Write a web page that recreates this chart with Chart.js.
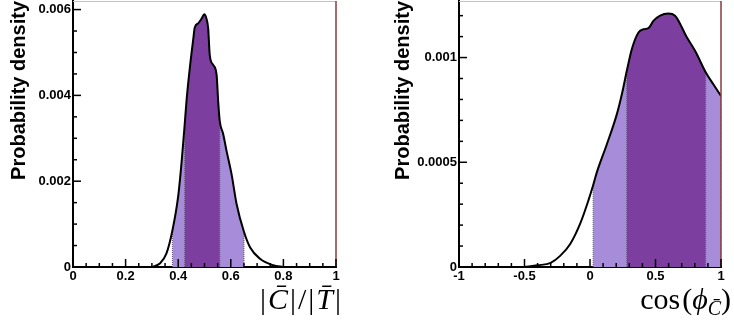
<!DOCTYPE html>
<html>
<head>
<meta charset="utf-8">
<script src="https://cdn.jsdelivr.net/npm/chart.js@4"></script>
<style>
    html, body { margin: 0; padding: 0; background: #fff; }
    #wrap { position: relative; width: 734px; height: 322px; }
    .panel { position: absolute; top: 0; width: 367px; height: 322px; }
</style>
</head>
<body>
<div id="wrap">
    <div class="panel" style="left:0"><canvas id="graph-ratio" width="367" height="322"></canvas></div>
    <div class="panel" style="left:367px"><canvas id="graph-cosphi" width="367" height="322"></canvas></div>
</div>
<script>
// ===============================
//  Posterior densities, |C|/|T| and cos(phi_C)
// ===============================

// venstre panel: |C|/|T|
const ratioX = [0.300, 0.330, 0.355, 0.378, 0.400, 0.413, 0.425, 0.432, 0.444, 0.457, 0.463, 0.476, 0.490, 0.499, 0.507, 0.514, 0.520, 0.533, 0.546, 0.552, 0.558, 0.571, 0.584, 0.603, 0.622, 0.650, 0.673, 0.711, 0.761, 0.800];
const ratioY = [0, 0.00008, 0.00031, 0.00085, 0.00165, 0.00245, 0.00335, 0.00390, 0.00463, 0.00530, 0.00558, 0.00568, 0.00580, 0.00589, 0.00580, 0.00556, 0.00494, 0.00471, 0.00448, 0.00386, 0.00340, 0.00310, 0.00270, 0.00216, 0.00147, 0.00082, 0.00046, 0.00019, 0.00004, 0];
const ratioBand68 = [0.425, 0.558];
const ratioBand95 = [0.378, 0.650];

// hoyre panel: cos(phi_C)
const cosX = [-0.500, -0.400, -0.300, -0.228, -0.151, -0.075, -0.012, 0.024, 0.052, 0.128, 0.205, 0.245, 0.281, 0.319, 0.370, 0.408, 0.446, 0.484, 0.535, 0.598, 0.649, 0.738, 0.804, 0.883, 0.944, 1.000];
const cosY = [0, 0.000008, 0.00002, 0.000053, 0.00011, 0.000207, 0.000318, 0.00039, 0.000452, 0.000585, 0.00073, 0.00083, 0.000937, 0.00104, 0.00112, 0.001135, 0.00114, 0.001175, 0.0012, 0.00121, 0.0012, 0.001098, 0.00103, 0.00093, 0.00087, 0.000817];
const cosBand68 = [0.281, 0.883];
const cosBand95 = [0.024, 1.000];

const yTitle = "Probability density";
const DARK = "#7d3f9f";
const LIGHT = "#a68cd9";
const SANS = "'Liberation Sans', Arial, sans-serif";
const SERIF = "'Liberation Serif', 'DejaVu Serif', serif";

function points(xs, ys, lo, hi) {
    const out = [];
    for (let i = 0; i < xs.length; i++) {
        if (xs[i] >= lo - 1e-9 && xs[i] <= hi + 1e-9) out.push({ x: xs[i], y: ys[i] });
    }
    return out;
}

function edgeLines(xs, ys, bands) {
    const sets = [];
    for (const b of bands) {
        for (const e of b) {
            const i = xs.findIndex(v => Math.abs(v - e) < 1e-9);
            sets.push({
                data: [{ x: e, y: 0 }, { x: e, y: ys[i] }],
                borderColor: "#5a4a70",
                borderWidth: 1,
                borderDash: [1, 1],
                pointRadius: 0,
                fill: false,
                order: 1
            });
        }
    }
    return sets;
}

// ROOT-aktig ramme: innoverpekende ticks, tynn topp/hoyre kant og x-tittel
const rootFrame = {
    id: "rootFrame",
    afterDraw(chart, args, opts) {
        const { ctx, chartArea: a, scales } = chart;
        ctx.save();

        ctx.lineWidth = 1;
        ctx.strokeStyle = "#d9b9b9";
        ctx.beginPath();
        ctx.moveTo(a.left, a.top + 0.5);
        ctx.lineTo(a.right, a.top + 0.5);
        ctx.stroke();

        ctx.lineWidth = 1.5;
        ctx.strokeStyle = opts.rightColor;
        ctx.beginPath();
        ctx.moveTo(a.right, a.top);
        ctx.lineTo(a.right, a.bottom);
        ctx.stroke();

        ctx.strokeStyle = "#000";
        ctx.lineWidth = 1.5;
        const ticks = (scale, nMinor, horiz) => {
            const vals = scale.ticks.map(t => t.value);
            const step = (vals[1] - vals[0]) / nMinor;
            for (let k = 0; ; k++) {
                const v = vals[0] + k * step;
                if (v > scale.max + step * 1e-3) break;
                const len = k % nMinor === 0 ? 8 : 4;
                const p = scale.getPixelForValue(v);
                ctx.beginPath();
                if (horiz) { ctx.moveTo(p, a.bottom); ctx.lineTo(p, a.bottom - len); }
                else { ctx.moveTo(a.left, p); ctx.lineTo(a.left + len, p); }
                ctx.stroke();
            }
        };
        ticks(scales.x, opts.xMinor, true);
        ticks(scales.y, opts.yMinor, false);

        // x-tittel (matematisk, delvis kursiv)
        ctx.fillStyle = "#000";
        ctx.textBaseline = "alphabetic";
        let total = 0;
        for (const p of opts.title) { ctx.font = p.f; total += ctx.measureText(p.t).width + (p.gap || 0); }
        let x = opts.titleRight - total;
        for (const p of opts.title) {
            ctx.font = p.f;
            ctx.fillText(p.t, x, opts.titleBase + (p.dy || 0));
            x += ctx.measureText(p.t).width + (p.gap || 0);
        }
        ctx.restore();
    }
};

function makeChart(id, cfg) {
    const band68 = points(cfg.xs, cfg.ys, cfg.b68[0], cfg.b68[1]);
    const band95 = points(cfg.xs, cfg.ys, cfg.b95[0], cfg.b95[1]);
    const curve = points(cfg.xs, cfg.ys, -Infinity, Infinity);
    const line = {
        pointRadius: 0,
        cubicInterpolationMode: "monotone"
    };

    new Chart(document.getElementById(id), {
        type: "line",
        data: {
            datasets: [
                { ...line, data: curve, borderColor: "#000", borderWidth: 2, fill: false, order: 0 },
                ...edgeLines(cfg.xs, cfg.ys, [cfg.b68, cfg.b95]),
                { ...line, data: band68, borderWidth: 0, backgroundColor: DARK, fill: "origin", order: 2 },
                { ...line, data: band95, borderWidth: 0, backgroundColor: LIGHT, fill: "origin", order: 3 }
            ]
        },
        options: {
            responsive: false,
            animation: false,
            layout: { padding: { top: 1, right: cfg.padRight, left: 0, bottom: 0 } },
            plugins: {
                legend: { display: false },
                tooltip: { enabled: false },
                rootFrame: {
                    rightColor: "#8b3a3a",
                    xMinor: cfg.xMinor,
                    yMinor: cfg.yMinor,
                    title: cfg.title,
                    titleRight: cfg.titleRight,
                    titleBase: 309
                }
            },
            scales: {
                x: {
                    type: "linear",
                    min: cfg.xMin,
                    max: cfg.xMax,
                    grid: { display: false, drawTicks: false },
                    border: { display: true, color: "#000", width: 2 },
                    ticks: {
                        stepSize: cfg.xStep,
                        padding: 2,
                        color: "#000",
                        font: { family: SANS, size: 13, weight: "bold" },
                        callback: v => String(+v.toFixed(4))
                    },
                    afterFit: s => { s.height = 55; s.paddingLeft = 0; s.paddingRight = 0; }
                },
                y: {
                    min: 0,
                    max: cfg.yMax,
                    grid: { display: false, drawTicks: false },
                    border: { display: true, color: "#000", width: 2 },
                    ticks: {
                        stepSize: cfg.yStep,
                        includeBounds: false,
                        padding: 2,
                        color: "#000",
                        font: { family: SANS, size: 13, weight: "bold" },
                        callback: v => String(+v.toFixed(6))
                    },
                    title: {
                        display: true,
                        text: yTitle,
                        align: "end",
                        color: "#000",
                        font: { family: SANS, size: 20, weight: "bold" },
                        padding: { top: cfg.yTitlePad, bottom: 0 }
                    },
                    afterFit: s => { s.width = cfg.yWidth; s.paddingTop = 0; s.paddingBottom = 0; }
                }
            }
        },
        plugins: [rootFrame]
    });
}

makeChart("graph-ratio", {
    xs: ratioX, ys: ratioY, b68: ratioBand68, b95: ratioBand95,
    xMin: 0, xMax: 1, xStep: 0.2, xMinor: 4,
    yMax: 0.0062, yStep: 0.002, yMinor: 4,
    yWidth: 73, padRight: 31, yTitlePad: 7,
    titleRight: 341,
    title: [
        { t: "|", f: "30px " + SERIF, gap: 2 },
        { t: "C\u0304", f: "italic 30px " + SERIF, gap: 2 },
        { t: "|", f: "30px " + SERIF, gap: 2 },
        { t: "/", f: "30px " + SERIF, gap: 2 },
        { t: "|", f: "30px " + SERIF, gap: 2 },
        { t: "T\u0304", f: "italic 30px " + SERIF, gap: 2 },
        { t: "|", f: "30px " + SERIF }
    ]
});

makeChart("graph-cosphi", {
    xs: cosX, ys: cosY, b68: cosBand68, b95: cosBand95,
    xMin: -1, xMax: 1, xStep: 0.5, xMinor: 5,
    yMax: 0.00127, yStep: 0.0005, yMinor: 5,
    yWidth: 92, padRight: 13, yTitlePad: 24,
    titleRight: 364,
    title: [
        { t: "cos", f: "30px " + SERIF, gap: 2 },
        { t: "(", f: "30px " + SERIF },
        { t: "\u03d5", f: "italic 30px " + SERIF },
        { t: "C\u0304", f: "italic 20px " + SERIF, dy: 6 },
        { t: ")", f: "30px " + SERIF }
    ]
});
</script>
</body>
</html>
